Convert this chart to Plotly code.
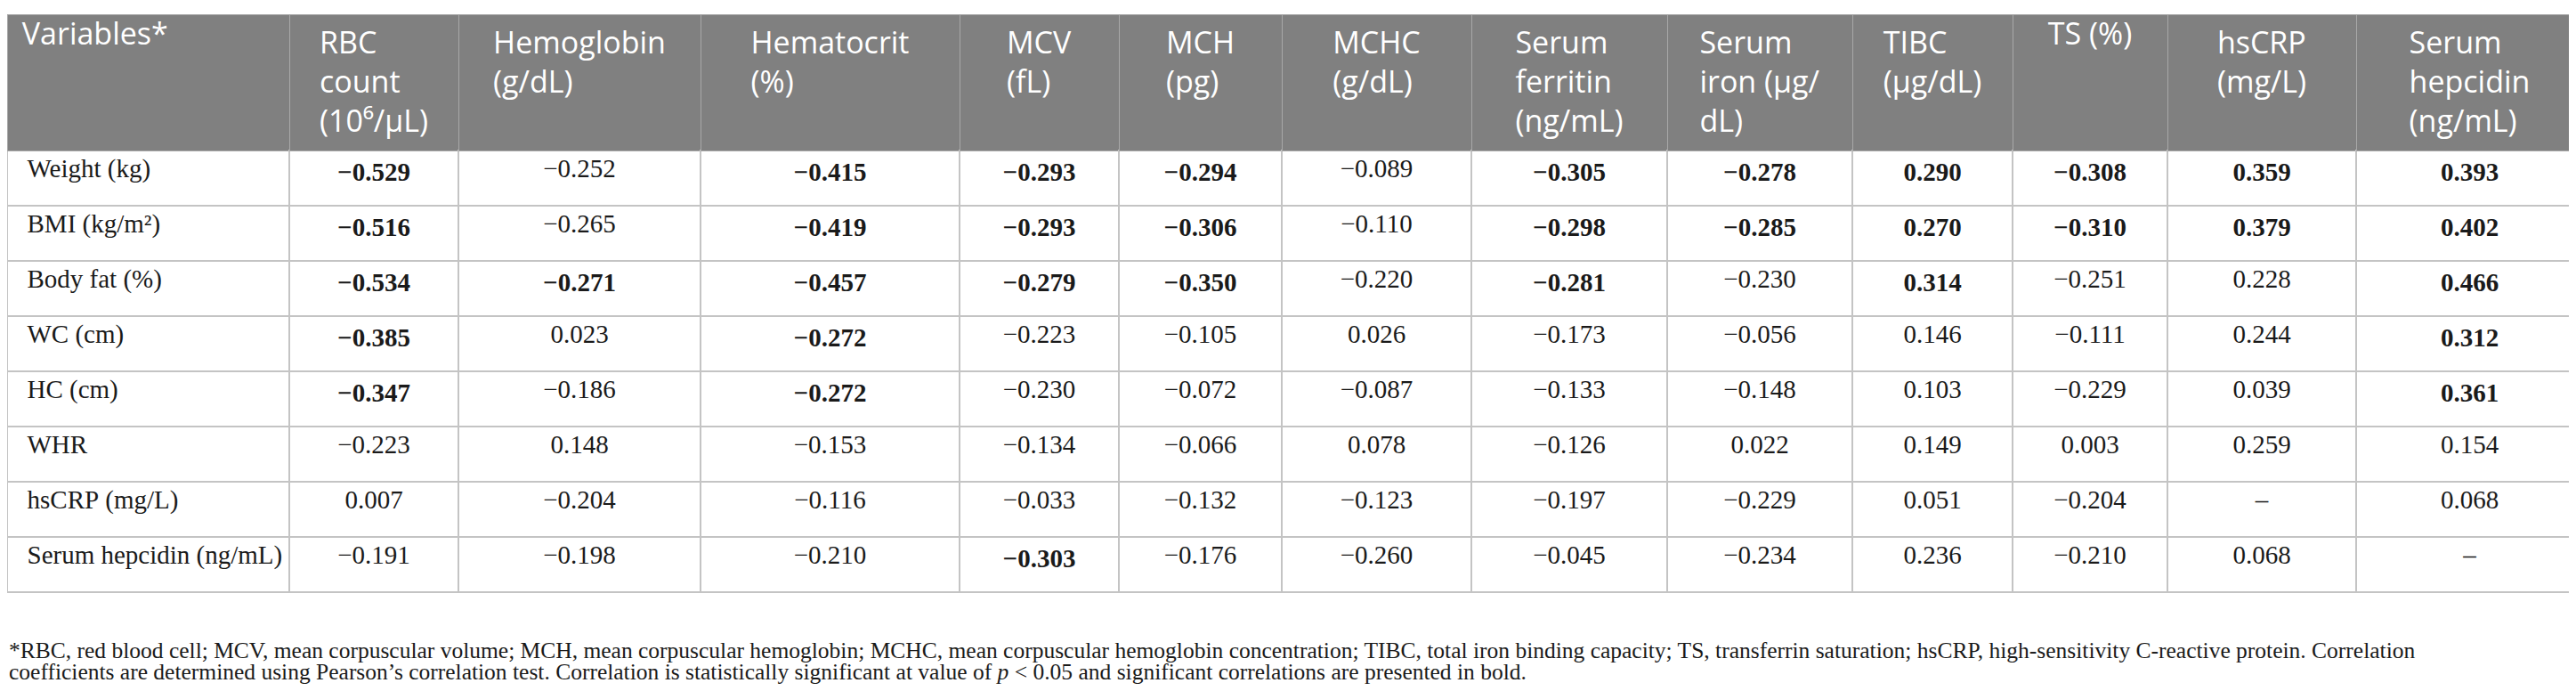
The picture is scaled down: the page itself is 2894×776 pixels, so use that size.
import plotly.graph_objects as go

# Row labels (first column)
variables = ["Weight (kg)", "BMI (kg/m²)", "Body fat (%)", "WC (cm)", "HC (cm)",
             "WHR", "hsCRP (mg/L)", "Serum hepcidin (ng/mL)"]

# Column headers
headers = ["Variables*", "RBC<br>count<br>(10⁶/µL)", "Hemoglobin<br>(g/dL)", "Hematocrit<br>(%)",
           "MCV<br>(fL)", "MCH<br>(pg)", "MCHC<br>(g/dL)", "Serum<br>ferritin<br>(ng/mL)",
           "Serum<br>iron (µg/<br>dL)", "TIBC<br>(µg/dL)", "TS (%)", "hsCRP<br>(mg/L)",
           "Serum<br>hepcidin<br>(ng/mL)"]

# Pearson correlation coefficients (None = not applicable)
rbc = [-0.529, -0.516, -0.534, -0.385, -0.347, -0.223, 0.007, -0.191]
hemoglobin = [-0.252, -0.265, -0.271, 0.023, -0.186, 0.148, -0.204, -0.198]
hematocrit = [-0.415, -0.419, -0.457, -0.272, -0.272, -0.153, -0.116, -0.210]
mcv = [-0.293, -0.293, -0.279, -0.223, -0.230, -0.134, -0.033, -0.303]
mch = [-0.294, -0.306, -0.350, -0.105, -0.072, -0.066, -0.132, -0.176]
mchc = [-0.089, -0.110, -0.220, 0.026, -0.087, 0.078, -0.123, -0.260]
ferritin = [-0.305, -0.298, -0.281, -0.173, -0.133, -0.126, -0.197, -0.045]
iron = [-0.278, -0.285, -0.230, -0.056, -0.148, 0.022, -0.229, -0.234]
tibc = [0.290, 0.270, 0.314, 0.146, 0.103, 0.149, 0.051, 0.236]
ts = [-0.308, -0.310, -0.251, -0.111, -0.229, 0.003, -0.204, -0.210]
hscrp = [0.359, 0.379, 0.228, 0.244, 0.039, 0.259, None, 0.068]
hepcidin = [0.393, 0.402, 0.466, 0.312, 0.361, 0.154, 0.068, None]

# Significance flags (p < 0.05 -> bold)
rbc_sig = [1, 1, 1, 1, 1, 0, 0, 0]
hemoglobin_sig = [0, 0, 1, 0, 0, 0, 0, 0]
hematocrit_sig = [1, 1, 1, 1, 1, 0, 0, 0]
mcv_sig = [1, 1, 1, 0, 0, 0, 0, 1]
mch_sig = [1, 1, 1, 0, 0, 0, 0, 0]
mchc_sig = [0, 0, 0, 0, 0, 0, 0, 0]
ferritin_sig = [1, 1, 1, 0, 0, 0, 0, 0]
iron_sig = [1, 1, 0, 0, 0, 0, 0, 0]
tibc_sig = [1, 1, 1, 0, 0, 0, 0, 0]
ts_sig = [1, 1, 0, 0, 0, 0, 0, 0]
hscrp_sig = [1, 1, 0, 0, 0, 0, 0, 0]
hepcidin_sig = [1, 1, 1, 1, 1, 0, 0, 0]

col_widths = [317, 190, 272, 291, 179, 183, 213, 220, 208, 180, 174, 212, 255]

footnote_1 = ("*RBC, red blood cell; MCV, mean corpuscular volume; MCH, mean corpuscular hemoglobin; "
              "MCHC, mean corpuscular hemoglobin concentration; TIBC, total iron binding capacity; "
              "TS, transferrin saturation; hsCRP, high-sensitivity C-reactive protein. Correlation")
footnote_2 = ("coefficients are determined using Pearson’s correlation test. Correlation is statistically "
              "significant at value of <i>p</i> < 0.05 and significant correlations are presented in bold.")


def fmt(v, sig):
    if v is None:
        return "–"
    s = f"{v:.3f}".replace("-", "−")
    return f"<b>{s}</b>" if sig else s


value_cols = [rbc, hemoglobin, hematocrit, mcv, mch, mchc, ferritin, iron, tibc, ts, hscrp, hepcidin]
sig_cols = [rbc_sig, hemoglobin_sig, hematocrit_sig, mcv_sig, mch_sig, mchc_sig, ferritin_sig,
            iron_sig, tibc_sig, ts_sig, hscrp_sig, hepcidin_sig]

# non-breaking spaces: keep labels on one line and pad the first column
nbsp = "\u00a0"
cell_values = [[nbsp * 2 + v.replace(" ", nbsp) for v in variables]]
for vals, sigs in zip(value_cols, sig_cols):
    cell_values.append([fmt(v, s) for v, s in zip(vals, sigs)])

header_values = [nbsp + headers[0]] + headers[1:]

fig = go.Figure()
fig.add_trace(go.Table(
    columnwidth=col_widths,
    domain=dict(x=[0, 1], y=[0, 1 - 8 / 776]),
    header=dict(
        values=header_values,
        fill_color="#808080",
        line=dict(color="#a8a8a8", width=1),
        align=["left"] + ["center"] * 12,
        font=dict(family="Open Sans", size=34, color="white"),
        height=153,
    ),
    cells=dict(
        values=cell_values,
        fill_color="white",
        line=dict(color="#c4c4c4", width=1.5),
        align=["left"] + ["center"] * 12,
        font=dict(family="Liberation Serif", size=29, color="#1a1a1a"),
        height=62,
    ),
))

# Footnote below the table
fig.add_annotation(text=footnote_1, xref="paper", yref="paper", x=0, y=1 - 722 / 776,
                   xanchor="left", yanchor="middle", showarrow=False,
                   font=dict(family="Liberation Serif", size=25.5, color="#1a1a1a"))
fig.add_annotation(text=footnote_2, xref="paper", yref="paper", x=0, y=1 - 746 / 776,
                   xanchor="left", yanchor="middle", showarrow=False,
                   font=dict(family="Liberation Serif", size=25.5, color="#1a1a1a"))

fig.update_layout(
    width=2894,
    height=776,
    margin=dict(l=0, r=0, t=0, b=0),
    paper_bgcolor="white",
)

fig.write_html("out.html")
